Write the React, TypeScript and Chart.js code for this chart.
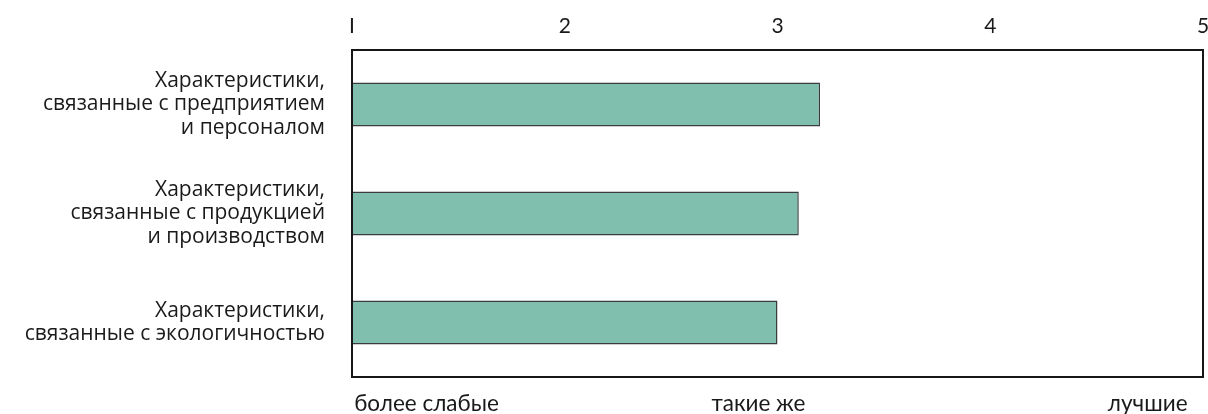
import React, { useEffect, useRef } from "react";
import { Chart, registerables } from "chart.js";

Chart.register(...registerables);

const categories: string[][] = [
  ["Характеристики,", "связанные с предприятием", "и персоналом"],
  ["Характеристики,", "связанные с продукцией", "и производством"],
  ["Характеристики,", "связанные с экологичностью"],
];
const scores: number[] = [3.2, 3.1, 3.0];
const topTicks: number[] = [1, 2, 3, 4, 5];
const bottomLabels: string[] = ["более слабые", "такие же", "лучшие"];
const bottomLabelValues: number[] = [1.35, 2.91, 4.74];

const FONT = "Lato, 'Open Sans', sans-serif";
const LABEL_FONT = "'Open Sans', Lato, sans-serif";
const TEXT = "#1a1a1a";

const boxPlugin = {
  id: "frameBox",
  afterDatasetsDraw(chart: any) {
    const { ctx, chartArea } = chart;
    ctx.save();
    ctx.strokeStyle = "#161616";
    ctx.lineWidth = 2;
    ctx.strokeRect(chartArea.left, chartArea.top, chartArea.right - chartArea.left, chartArea.bottom - chartArea.top);
    ctx.restore();
  },
};

export default function App() {
  const ref = useRef<HTMLCanvasElement | null>(null);
  useEffect(() => {
    if (!ref.current) return;
    const chart = new Chart(ref.current, {
      type: "bar",
      data: {
        labels: categories as any,
        datasets: [
          {
            data: scores,
            base: 1,
            backgroundColor: "#80bfad",
            borderColor: "#3a3d3e",
            borderWidth: 1.5,
            barPercentage: 0.404,
            categoryPercentage: 1,
          } as any,
        ],
      },
      options: {
        indexAxis: "y",
        responsive: false,
        animation: false,
        layout: { padding: { left: 0, right: 5, top: 0, bottom: 0 } },
        plugins: { legend: { display: false }, tooltip: { enabled: false } },
        scales: {
          x: {
            position: "top",
            min: 1,
            max: 5,
            grid: { display: false, drawTicks: false },
            border: { display: false },
            afterBuildTicks: (s: any) => {
              s.ticks = topTicks.map((v) => ({ value: v }));
            },
            afterFit: (s: any) => {
              s.height = 50;
              s.paddingLeft = 0;
              s.paddingRight = 0;
            },
            ticks: {
              padding: 11,
              maxRotation: 0,
              autoSkip: false,
              color: TEXT,
              font: { family: FONT, size: 21 },
              callback: (v: any) => (v === 1 ? "I" : String(v)),
            },
          },
          x2: {
            type: "linear",
            position: "bottom",
            min: 1,
            max: 5,
            grid: { display: false, drawTicks: false },
            border: { display: false },
            afterBuildTicks: (s: any) => {
              s.ticks = bottomLabelValues.map((v) => ({ value: v }));
            },
            afterFit: (s: any) => {
              s.height = 37;
              s.paddingLeft = 0;
              s.paddingRight = 0;
            },
            ticks: {
              padding: 13,
              maxRotation: 0,
              autoSkip: false,
              color: TEXT,
              font: { family: FONT, size: 22.5 },
              callback: (_v: any, i: number) => bottomLabels[i],
            },
          },
          y: {
            type: "category",
            grid: { display: false, drawTicks: false },
            border: { display: false },
            afterFit: (s: any) => {
              s.width = 352;
              s.paddingTop = 0;
              s.paddingBottom = 0;
            },
            ticks: {
              padding: 27,
              color: TEXT,
              font: { family: LABEL_FONT, size: 21, lineHeight: 1.1 },
            },
          },
        },
      } as any,
      plugins: [boxPlugin],
    });
    return () => chart.destroy();
  }, []);
  return (
    <div style={{ position: "fixed", left: 0, top: 0, width: 1208, height: 414, background: "#fff" }}>
      <canvas ref={ref} width={1208} height={414} />
    </div>
  );
}
